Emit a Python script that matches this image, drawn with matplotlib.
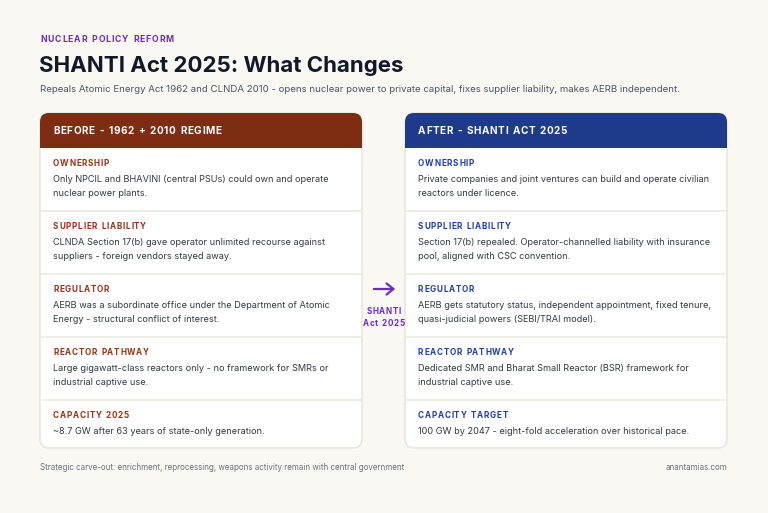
import matplotlib
matplotlib.use("Agg")
import matplotlib.pyplot as plt
from matplotlib.patches import FancyBboxPatch, Rectangle, FancyArrowPatch

# text content
KICKER = "NUCLEAR POLICY REFORM"
TITLE = "SHANTI Act 2025: What Changes"
SUBTITLE = ("Repeals Atomic Energy Act 1962 and CLNDA 2010 - opens nuclear power to "
            "private capital, fixes supplier liability, makes AERB independent.")
LEFT_HEADER = "BEFORE - 1962 + 2010 REGIME"
RIGHT_HEADER = "AFTER - SHANTI ACT 2025"
LEFT_LABELS = ["OWNERSHIP", "SUPPLIER LIABILITY", "REGULATOR", "REACTOR PATHWAY", "CAPACITY 2025"]
RIGHT_LABELS = ["OWNERSHIP", "SUPPLIER LIABILITY", "REGULATOR", "REACTOR PATHWAY", "CAPACITY TARGET"]
LEFT_TEXT = [
    ["Only NPCIL and BHAVINI (central PSUs) could own and operate", "nuclear power plants."],
    ["CLNDA Section 17(b) gave operator unlimited recourse against", "suppliers - foreign vendors stayed away."],
    ["AERB was a subordinate office under the Department of Atomic", "Energy - structural conflict of interest."],
    ["Large gigawatt-class reactors only - no framework for SMRs or", "industrial captive use."],
    ["~8.7 GW after 63 years of state-only generation."],
]
RIGHT_TEXT = [
    ["Private companies and joint ventures can build and operate civilian", "reactors under licence."],
    ["Section 17(b) repealed. Operator-channelled liability with insurance", "pool, aligned with CSC convention."],
    ["AERB gets statutory status, independent appointment, fixed tenure,", "quasi-judicial powers (SEBI/TRAI model)."],
    ["Dedicated SMR and Bharat Small Reactor (BSR) framework for", "industrial captive use."],
    ["100 GW by 2047 - eight-fold acceleration over historical pace."],
]
MID_LABEL = ["SHANTI", "Act 2025"]
FOOTNOTE = "Strategic carve-out: enrichment, reprocessing, weapons activity remain with central government"
SOURCE = "anantamias.com"

BG = "#faf8f3"
BORDER = "#e8e3da"
PURPLE = "#6d28d9"
FONT = "Inter"

W, H = 768, 513
fig = plt.figure(figsize=(W / 100, H / 100), dpi=100, facecolor=BG)
ax = fig.add_axes([0, 0, 1, 1])
ax.set_xlim(0, W)
ax.set_ylim(H, 0)
ax.axis("off")
fig.canvas.draw()
renderer = fig.canvas.get_renderer()


def spaced(x, y, s, spacing, draw=True, **kw):
    # matplotlib has no letter-spacing, so place characters one by one
    x_start = x
    space_w = 0.34 * kw["fontsize"] * 100 / 72
    for ch in s:
        t = ax.text(x, y, ch, va="center", ha="left", **kw)
        bb = t.get_window_extent(renderer)
        x += bb.width + spacing if ch != " " else space_w + spacing
        if not draw:
            t.remove()
    return x - spacing - x_start


spaced(40, 40, KICKER, 0.9, fontsize=6.2, color=PURPLE, fontweight="bold", family=FONT)
ax.text(39, 66, TITLE, fontsize=16.0, fontweight="bold", color="#111827", family=FONT,
        va="center", ha="left")
ax.text(40, 89, SUBTITLE, fontsize=6.95, color="#4b5563", family=FONT, va="center", ha="left")

top, head_h = 113, 35
row_tops = [148, 211, 274, 337, 400]
bottom = 448


def card(x0, x1, header, head_col, lab_col, labels, texts):
    w = x1 - x0
    ax.add_patch(FancyBboxPatch((x0, top), w, bottom - top,
                                boxstyle="round,pad=0,rounding_size=9",
                                fc="white", ec=BORDER, lw=1.0, zorder=1))
    ax.add_patch(FancyBboxPatch((x0, top), w, head_h,
                                boxstyle="round,pad=0,rounding_size=9",
                                fc=head_col, ec="none", zorder=2))
    ax.add_patch(Rectangle((x0, top + head_h - 12), w, 12, fc=head_col, ec="none", zorder=2))
    spaced(x0 + 13, top + head_h / 2 + 0.5, header, 0.6, fontsize=7.2, color="white",
           fontweight="bold", family=FONT, zorder=3)
    for i, (lab, lines) in enumerate(zip(labels, texts)):
        rt = row_tops[i]
        if i > 0:
            ax.plot([x0 + 0.5, x1 - 0.5], [rt, rt], color="#eeeae2", lw=1.2, zorder=3)
        spaced(x0 + 13, rt + 15.5, lab, 0.75, fontsize=5.9, color=lab_col,
               fontweight="bold", family=FONT, zorder=3)
        for j, line in enumerate(lines):
            ax.text(x0 + 13, rt + 31.5 + j * 14, line, fontsize=6.6, color="#333a44",
                    family=FONT, va="center", ha="left", zorder=3)


card(40, 362, LEFT_HEADER, "#7c2d12", "#9a3412", LEFT_LABELS, LEFT_TEXT)
card(405, 727, RIGHT_HEADER, "#1e3a8a", "#1e40af", RIGHT_LABELS, RIGHT_TEXT)

ax.add_patch(FancyArrowPatch((371, 289), (398, 289), arrowstyle="->,head_length=5,head_width=4",
                             color=PURPLE, lw=1.6, zorder=3))
mid_kw = dict(fontsize=5.8, color=PURPLE, fontweight="bold", family=FONT)
for k, s in enumerate(MID_LABEL):
    w_s = spaced(0, 0, s, 0.6, draw=False, **mid_kw)
    spaced(383.5 - w_s / 2, 312 + k * 12, s, 0.6, **mid_kw)

ax.text(40, 467, FOOTNOTE, fontsize=5.75, color="#6b7280", family=FONT, va="center", ha="left")
ax.text(727, 467, SOURCE, fontsize=5.75, color="#6b7280", family=FONT, va="center", ha="right")

fig.savefig("out.png", dpi=100, facecolor=BG)
